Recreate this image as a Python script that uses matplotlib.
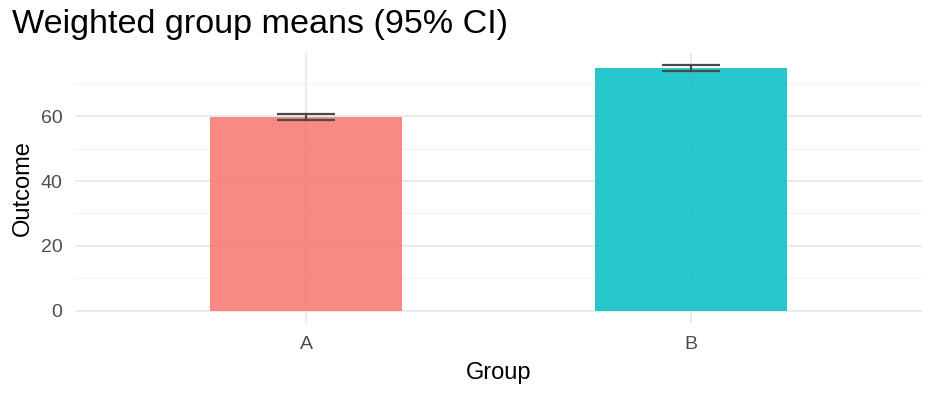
import matplotlib.pyplot as plt
import numpy as np

plt.rcParams['font.family'] = ['Liberation Sans', 'DejaVu Sans']

groups = ['A', 'B']
means = [59.7, 74.8]
ci_low = [58.8, 73.9]
ci_high = [60.6, 75.7]
colors = ['#F8766D', '#00BFC4']

fig = plt.figure(figsize=(9.36, 3.96), dpi=100)
ax = fig.add_axes([75 / 936, 73 / 396, 847 / 936, 270 / 396])

x = np.arange(1, len(groups) + 1)
ax.bar(x, means, width=0.5, color=colors, alpha=0.85, zorder=2)
for xi, lo, hi in zip(x, ci_low, ci_high):
    ax.plot([xi, xi], [lo, hi], color='#4a4a4a', lw=1.6, zorder=3)
    ax.plot([xi - 0.075, xi + 0.075], [lo, lo], color='#4a4a4a', lw=1.6, zorder=3, solid_capstyle='butt')
    ax.plot([xi - 0.075, xi + 0.075], [hi, hi], color='#4a4a4a', lw=1.6, zorder=3, solid_capstyle='butt')

ymax = max(ci_high)
ax.set_xlim(0.4, 2.6)
ax.set_ylim(-0.05 * ymax, ymax * 1.05)
ax.set_xticks(x)
ax.set_xticklabels(groups)
ax.set_yticks([0, 20, 40, 60])
ax.set_yticks([10, 30, 50, 70], minor=True)

ax.grid(True, which='major', color='#ebebeb', lw=1.4, zorder=0)
ax.grid(True, which='minor', axis='y', color='#f2f2f2', lw=0.8, zorder=0)
ax.set_axisbelow(True)
for s in ax.spines.values():
    s.set_visible(False)
ax.tick_params(which='both', length=0, labelsize=14, labelcolor='#4d4d4d')
ax.tick_params(axis='y', pad=9)
ax.tick_params(axis='x', pad=9.5)

ax.set_xlabel('Group', fontsize=17, labelpad=6.5)
ax.set_ylabel('Outcome', fontsize=17, labelpad=4.5)
fig.text(12 / 936, 1 - 25 / 396, 'Weighted group means (95% CI)', fontsize=24.6, va='center', ha='left')

fig.savefig('out.png', dpi=100)
